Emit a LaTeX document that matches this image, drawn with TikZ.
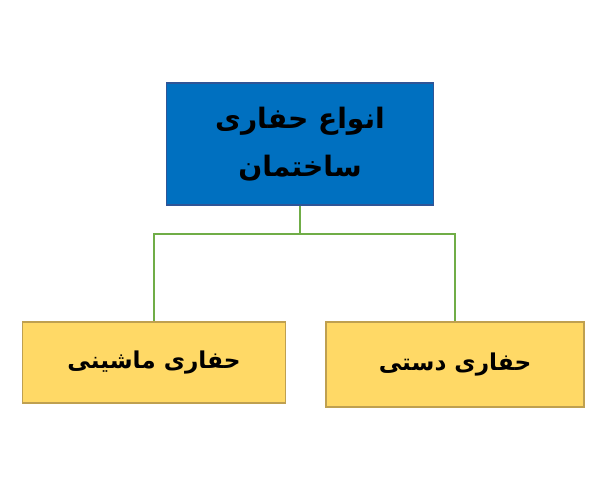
\documentclass[tikz,border=0pt]{standalone}
\usepackage{fontspec}
\usepackage{tikz}
\TeXXeTstate=1
\newfontfamily\arabicfont[Script=Arabic]{DejaVu Sans}
\definecolor{headblue}{RGB}{0,112,192}
\definecolor{headline}{RGB}{47,85,151}
\definecolor{itemyellow}{RGB}{255,217,102}
\definecolor{itemline}{RGB}{191,160,80}
\definecolor{linkgreen}{RGB}{112,173,71}
\tikzset{headbox/.style={draw=headline,fill=headblue,line width=0.8pt,
    minimum width=6.675cm,minimum height=3.05cm,align=center,
    font=\arabicfont\bfseries\fontsize{20}{34}\selectfont}}
\tikzset{itembox/.style={draw=itemline,fill=itemyellow,line width=0.8pt,
    minimum height=2.025cm,font=\arabicfont\bfseries\fontsize{16.5}{22}\selectfont}}
\tikzset{link/.style={draw=linkgreen,line width=1.4pt}}

\begin{document}
\begin{tikzpicture}[x=0.025cm,y=-0.025cm]
            \useasboundingbox[fill=white] (0,0) rectangle (600,500);

            % Boxes
            \node[headbox] (kinds) at (300,144) {\beginR انواع حفاری\endR\\\beginR ساختمان\endR};
            \node[itembox,minimum width=6.575cm] (machine) at (154,362.5) {\beginR حفاری ماشینی\endR};
            \node[itembox,minimum width=6.45cm,minimum height=2.125cm] (hand) at (455,364.5) {\beginR حفاری دستی\endR};

            % Links
            \coordinate (fork) at (300,234);
            \draw[link] (kinds.south) -- (fork);
            \draw[link] (fork) -| (machine.north);
            \draw[link] (fork) -| (hand.north);
\end{tikzpicture}
\end{document}
